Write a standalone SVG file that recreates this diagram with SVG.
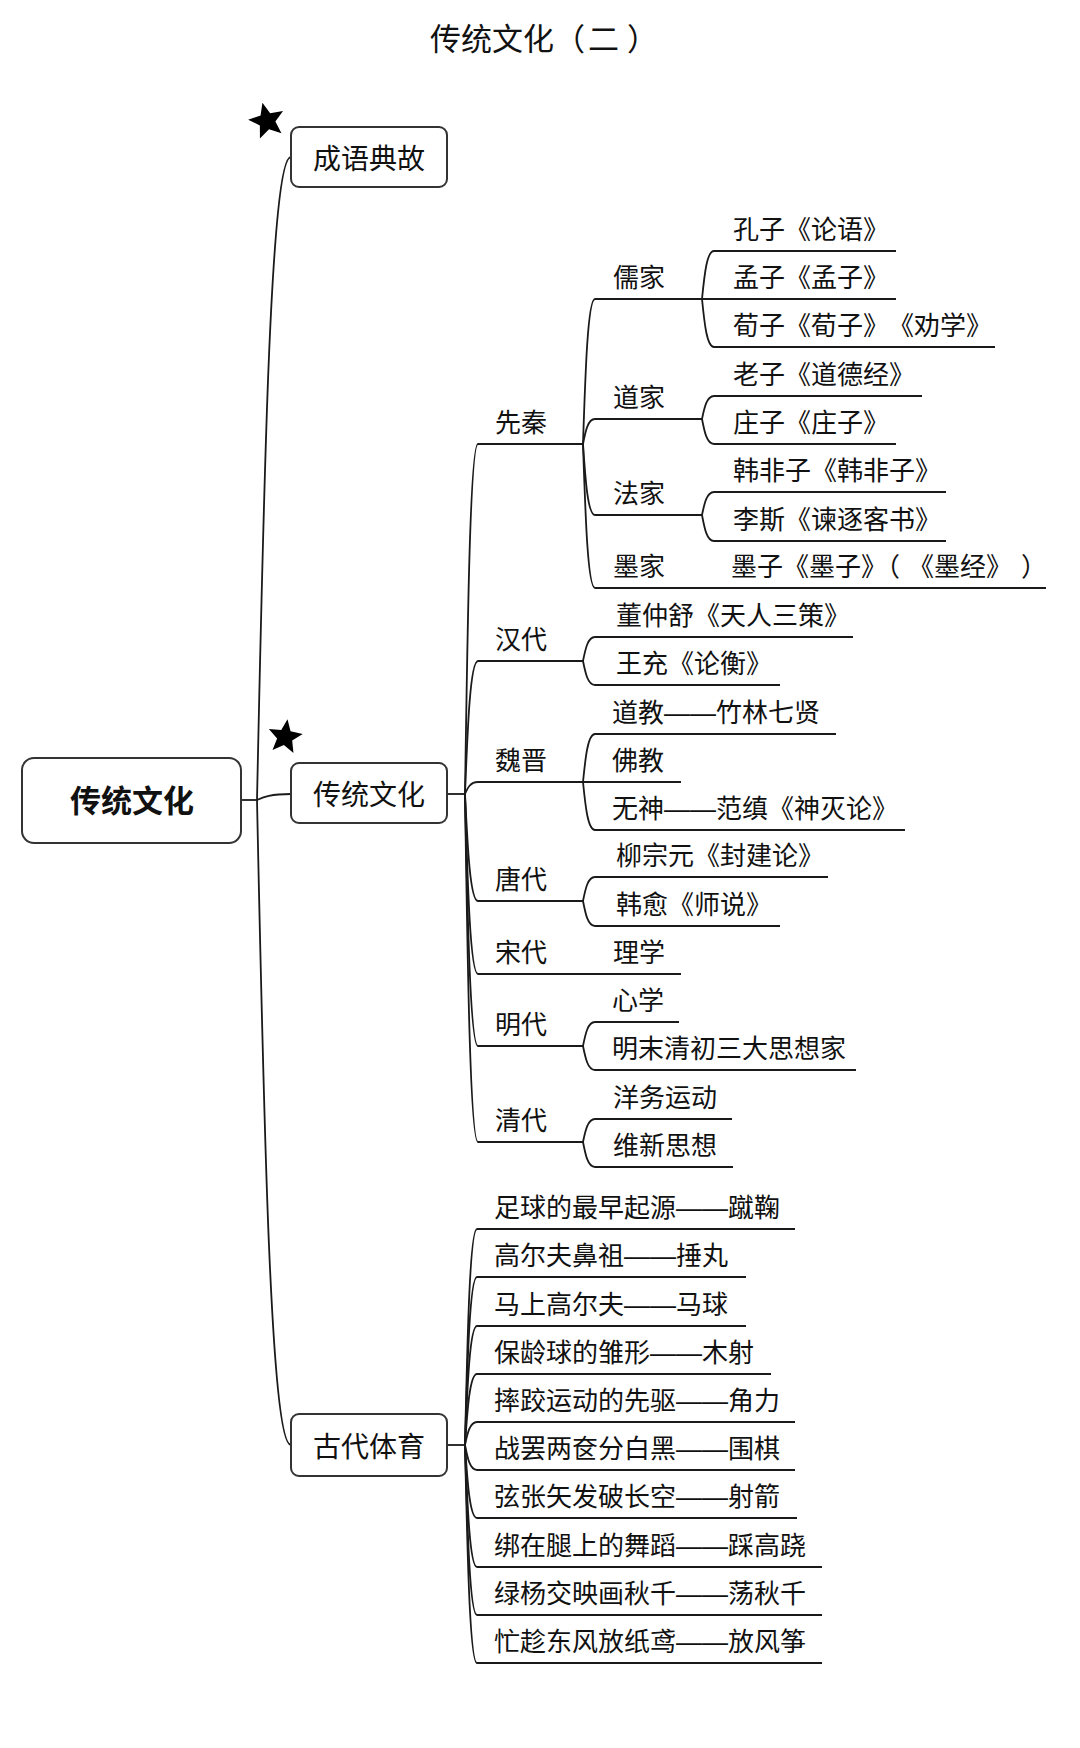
<svg xmlns="http://www.w3.org/2000/svg" xmlns:xlink="http://www.w3.org/1999/xlink" width="1080" height="1748" viewBox="0 0 1080 1748">
<style>
  .t { font-family: "Noto Sans CJK SC", "Microsoft YaHei", sans-serif; font-size: 26px; fill: #111; }
  .d { font-family: "Liberation Sans", Arial, sans-serif; }
  .title { font-size: 31px; }
  .box { fill: #fff; stroke: #333; stroke-width: 2; }
  .bt { font-size: 28px; text-anchor: middle; }
  .main { font-size: 31px; font-weight: bold; text-anchor: middle; }
  .c { fill: none; stroke: #1a1a1a; stroke-width: 1.8; }
</style>
<defs>
  <polygon id="star" points="0,-18 4.7,-6.47 17.12,-5.56 7.61,2.47 10.58,14.56 0,8 -10.58,14.56 -7.61,2.47 -17.12,-5.56 -4.7,-6.47" fill="#000"/>
</defs>
<rect width="1080" height="1748" fill="#fff"/>
<text class="t title" x="430" y="50">传统文化（<tspan dx="3">二</tspan><tspan dx="8">）</tspan></text>

<g id="connectors">
  <path class="c" d="M241 800 L257 800"/>
  <path class="c" d="M257 800 C263.8 478.5 270.6 157 291 157"/>
  <path class="c" d="M257 800 C263.8 797 270.6 794 291 794"/>
  <path class="c" d="M257 800 C263.8 1122.5 270.6 1445 291 1445"/>
  <path class="c" d="M447 794 L465 794"/>
  <path class="c" d="M447 1445 L465 1445"/>
  <path class="c" d="M465 794 C467.6 619 470.2 444 478 444 L583 444"/>
  <path class="c" d="M465 794 C467.6 727.5 470.2 661 478 661 L583 661"/>
  <path class="c" d="M465 794 C467.6 788 470.2 782 478 782 L681 782"/>
  <path class="c" d="M465 794 C467.6 847.5 470.2 901 478 901 L583 901"/>
  <path class="c" d="M465 794 C467.6 884 470.2 974 478 974 L681 974"/>
  <path class="c" d="M465 794 C467.6 920 470.2 1046 478 1046 L583 1046"/>
  <path class="c" d="M465 794 C467.6 968 470.2 1142 478 1142 L583 1142"/>
  <path class="c" d="M583 444 C585.4 371.5 587.8 299 595 299 L896 299"/>
  <path class="c" d="M583 444 C585.4 431.5 587.8 419 595 419 L702 419"/>
  <path class="c" d="M583 444 C585.4 479.5 587.8 515 595 515 L702 515"/>
  <path class="c" d="M583 444 C585.4 516 587.8 588 595 588 L1046 588"/>
  <path class="c" d="M702 299 C704.4 275 706.8 251 714 251 L896 251"/>
  <path class="c" d="M702 299 C704.4 323 706.8 347 714 347 L995 347"/>
  <path class="c" d="M702 419 C704.4 407.5 706.8 396 714 396 L922 396"/>
  <path class="c" d="M702 419 C704.4 431.5 706.8 444 714 444 L896 444"/>
  <path class="c" d="M702 515 C704.4 503.5 706.8 492 714 492 L946 492"/>
  <path class="c" d="M702 515 C704.4 528 706.8 541 714 541 L946 541"/>
  <path class="c" d="M583 661 C585.4 649 587.8 637 595 637 L853 637"/>
  <path class="c" d="M583 661 C585.4 673 587.8 685 595 685 L780 685"/>
  <path class="c" d="M583 782 C585.4 758 587.8 734 595 734 L836 734"/>
  <path class="c" d="M583 782 C585.4 806 587.8 830 595 830 L905 830"/>
  <path class="c" d="M583 901 C585.4 889 587.8 877 595 877 L828 877"/>
  <path class="c" d="M583 901 C585.4 913.5 587.8 926 595 926 L780 926"/>
  <path class="c" d="M583 1046 C585.4 1034 587.8 1022 595 1022 L679 1022"/>
  <path class="c" d="M583 1046 C585.4 1058 587.8 1070 595 1070 L856 1070"/>
  <path class="c" d="M583 1142 C585.4 1130.5 587.8 1119 595 1119 L732 1119"/>
  <path class="c" d="M583 1142 C585.4 1154.5 587.8 1167 595 1167 L733 1167"/>
  <path class="c" d="M465 1445 C467.4 1337 469.8 1229 477 1229 L795 1229"/>
  <path class="c" d="M465 1445 C467.4 1361 469.8 1277 477 1277 L746 1277"/>
  <path class="c" d="M465 1445 C467.4 1385.5 469.8 1326 477 1326 L746 1326"/>
  <path class="c" d="M465 1445 C467.4 1409.5 469.8 1374 477 1374 L771 1374"/>
  <path class="c" d="M465 1445 C467.4 1433.5 469.8 1422 477 1422 L795 1422"/>
  <path class="c" d="M465 1445 C467.4 1457.5 469.8 1470 477 1470 L795 1470"/>
  <path class="c" d="M465 1445 C467.4 1481.5 469.8 1518 477 1518 L797 1518"/>
  <path class="c" d="M465 1445 C467.4 1506 469.8 1567 477 1567 L822 1567"/>
  <path class="c" d="M465 1445 C467.4 1530 469.8 1615 477 1615 L822 1615"/>
  <path class="c" d="M465 1445 C467.4 1554 469.8 1663 477 1663 L822 1663"/>
</g>

<g id="node-root">
  <rect class="box" x="22" y="758" width="219" height="85" rx="12"/>
  <text class="t main" x="132" y="812">传统文化</text>
</g>
<g id="node-chengyu">
  <rect class="box" x="291" y="127" width="156" height="60" rx="8"/>
  <text class="t bt" x="369" y="169">成语典故</text>
  <use xlink:href="#star" href="#star" transform="translate(267,121) rotate(-14) scale(1.05)"/>
</g>
<g id="node-chuantong">
  <rect class="box" x="291" y="763" width="156" height="60" rx="8"/>
  <text class="t bt" x="369" y="805">传统文化</text>
  <use xlink:href="#star" href="#star" transform="translate(285,737) rotate(8)"/>
</g>
<g id="node-gudai">
  <rect class="box" x="291" y="1414" width="156" height="62" rx="8"/>
  <text class="t bt" x="369" y="1457">古代体育</text>
</g>

<g id="node-xianqin"><text class="t" x="495" y="432">先秦</text></g>
<g id="node-handai"><text class="t" x="495" y="649">汉代</text></g>
<g id="node-weijin"><text class="t" x="495" y="770">魏晋</text></g>
<g id="node-tangdai"><text class="t" x="495" y="889">唐代</text></g>
<g id="node-songdai"><text class="t" x="495" y="962">宋代</text></g>
<g id="node-mingdai"><text class="t" x="495" y="1034">明代</text></g>
<g id="node-qingdai"><text class="t" x="495" y="1130">清代</text></g>

<g id="node-rujia"><text class="t" x="613" y="287">儒家</text></g>
<g id="node-daojia"><text class="t" x="613" y="407">道家</text></g>
<g id="node-fajia"><text class="t" x="613" y="503">法家</text></g>
<g id="node-mojia"><text class="t" x="613" y="576">墨家</text></g>

<g id="node-kongzi"><text class="t" x="733" y="239">孔子《论语》</text></g>
<g id="node-mengzi"><text class="t" x="733" y="287">孟子《孟子》</text></g>
<g id="node-xunzi"><text class="t" x="733" y="335">荀子《荀子》<tspan dx="12">《劝学》</tspan></text></g>
<g id="node-laozi"><text class="t" x="733" y="384">老子《道德经》</text></g>
<g id="node-zhuangzi"><text class="t" x="733" y="432">庄子《庄子》</text></g>
<g id="node-hanfeizi"><text class="t" x="733" y="480">韩非子《韩非子》</text></g>
<g id="node-lisi"><text class="t" x="733" y="529">李斯《谏逐客书》</text></g>
<g id="node-mozi"><text class="t" x="731" y="576">墨子《墨子》（<tspan dx="21">《墨经》</tspan><tspan dx="22">）</tspan></text></g>

<g id="node-dongzhongshu"><text class="t" x="616" y="625">董仲舒《天人三策》</text></g>
<g id="node-wangchong"><text class="t" x="616" y="673">王充《论衡》</text></g>
<g id="node-daojiao"><text class="t" x="612" y="722">道教<tspan class="d">——</tspan>竹林七贤</text></g>
<g id="node-fojiao"><text class="t" x="612" y="770">佛教</text></g>
<g id="node-wushen"><text class="t" x="612" y="818">无神<tspan class="d">——</tspan>范缜《神灭论》</text></g>
<g id="node-liuzongyuan"><text class="t" x="616" y="865">柳宗元《封建论》</text></g>
<g id="node-hanyu"><text class="t" x="616" y="914">韩愈《师说》</text></g>
<g id="node-lixue"><text class="t" x="613" y="962">理学</text></g>
<g id="node-xinxue"><text class="t" x="612" y="1010">心学</text></g>
<g id="node-mingmo"><text class="t" x="612" y="1058">明末清初三大思想家</text></g>
<g id="node-yangwu"><text class="t" x="613" y="1107">洋务运动</text></g>
<g id="node-weixin"><text class="t" x="613" y="1155">维新思想</text></g>

<g id="node-s1"><text class="t" x="494" y="1217">足球的最早起源<tspan class="d">——</tspan>蹴鞠</text></g>
<g id="node-s2"><text class="t" x="494" y="1265">高尔夫鼻祖<tspan class="d">——</tspan>捶丸</text></g>
<g id="node-s3"><text class="t" x="494" y="1314">马上高尔夫<tspan class="d">——</tspan>马球</text></g>
<g id="node-s4"><text class="t" x="494" y="1362">保龄球的雏形<tspan class="d">——</tspan>木射</text></g>
<g id="node-s5"><text class="t" x="494" y="1410">摔跤运动的先驱<tspan class="d">——</tspan>角力</text></g>
<g id="node-s6"><text class="t" x="494" y="1458">战罢两奁分白黑<tspan class="d">——</tspan>围棋</text></g>
<g id="node-s7"><text class="t" x="494" y="1506">弦张矢发破长空<tspan class="d">——</tspan>射箭</text></g>
<g id="node-s8"><text class="t" x="494" y="1555">绑在腿上的舞蹈<tspan class="d">——</tspan>踩高跷</text></g>
<g id="node-s9"><text class="t" x="494" y="1603">绿杨交映画秋千<tspan class="d">——</tspan>荡秋千</text></g>
<g id="node-s10"><text class="t" x="494" y="1651">忙趁东风放纸鸢<tspan class="d">——</tspan>放风筝</text></g>
</svg>
